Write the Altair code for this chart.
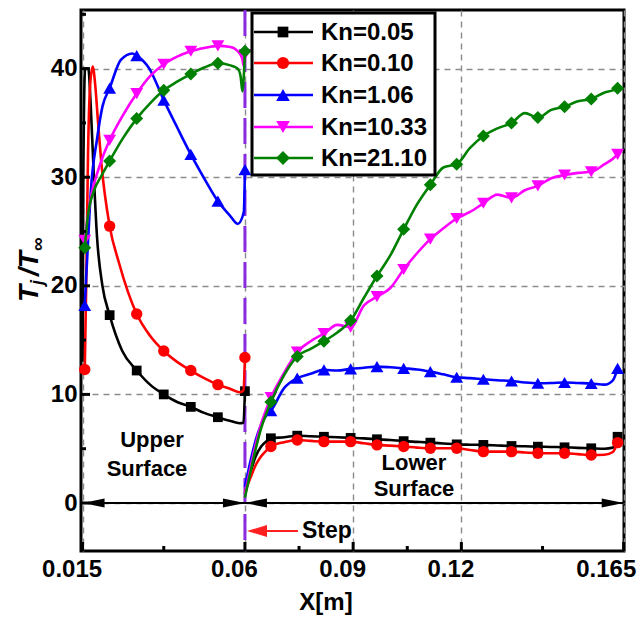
import altair as alt
import pandas as pd

# ---------------- data ----------------
SERIES = ["Kn=0.05", "Kn=0.10", "Kn=1.06", "Kn=10.33", "Kn=21.10"]
COLORS = ["#000000", "#FF0000", "#0000FF", "#FF00FF", "#008000"]
SHAPES = ["square", "circle", "triangle-up", "triangle-down", "diamond"]
SIZES = [95, 130, 165, 165, 170]

# upper surface (x in m, T/Tinf)
UP_X = {
    "Kn=0.05": [0.0150, 0.0152, 0.0157, 0.0166, 0.0172, 0.0180, 0.0190, 0.0205, 0.0225, 0.0260, 0.0300,
                0.0337, 0.0375, 0.0412, 0.0450, 0.0487, 0.0525, 0.0560, 0.0585, 0.0596, 0.0600],
    "Kn=0.10": [0.0156, 0.0160, 0.0165, 0.0171, 0.0178, 0.0185, 0.0193, 0.0202, 0.0225, 0.0251, 0.0300,
                0.0337, 0.0375, 0.0412, 0.0450, 0.0487, 0.0525, 0.0560, 0.0586, 0.0596, 0.0600],
    "Kn=1.06": [0.0156, 0.0165, 0.0173, 0.0190, 0.0205, 0.0225, 0.0256, 0.0288, 0.0300, 0.0335, 0.0375,
                0.0412, 0.0450, 0.0487, 0.0525, 0.0560, 0.0580, 0.0597, 0.0600],
    "Kn=10.33": [0.0156, 0.0165, 0.0175, 0.0190, 0.0205, 0.0225, 0.0260, 0.0300, 0.0337, 0.0375, 0.0412,
                 0.0450, 0.0487, 0.0525, 0.0560, 0.0580, 0.0592, 0.0597, 0.0600],
    "Kn=21.10": [0.0156, 0.0165, 0.0182, 0.0200, 0.0225, 0.0262, 0.0300, 0.0337, 0.0375, 0.0412, 0.0450,
                 0.0487, 0.0525, 0.0560, 0.0580, 0.0588, 0.0593, 0.0600],
}
UP_Y = {
    "Kn=0.05": [13.0, 30.0, 40.0, 40.0, 37.0, 31.0, 24.5, 20.0, 17.3, 14.0, 12.2,
                10.9, 10.0, 9.3, 8.85, 8.3, 7.9, 7.55, 7.35, 7.4, 10.3],
    "Kn=0.10": [12.3, 20.0, 32.0, 38.5, 40.2, 38.5, 35.0, 31.3, 25.5, 22.1, 17.4,
                15.4, 14.0, 13.0, 12.2, 11.5, 10.9, 10.5, 10.2, 10.4, 13.4],
    "Kn=1.06": [18.2, 24.0, 28.8, 33.5, 36.5, 38.2, 40.8, 41.4, 41.2, 40.0, 37.1,
                34.6, 32.1, 29.9, 27.8, 26.4, 25.7, 26.8, 30.7],
    "Kn=10.33": [24.2, 26.5, 28.5, 30.3, 31.8, 33.4, 35.6, 37.7, 39.3, 40.4, 41.1,
                 41.6, 41.9, 42.1, 42.0, 41.6, 41.0, 40.2, 41.3],
    "Kn=21.10": [23.5, 26.5, 28.8, 30.0, 31.5, 33.6, 35.4, 36.8, 38.0, 38.8, 39.5,
                 40.1, 40.5, 40.3, 40.0, 39.3, 37.9, 41.6],
}
UP_MARKS = {
    "Kn=0.05": [0.0225, 0.0300, 0.0375, 0.0450, 0.0525, 0.0600],
    "Kn=0.10": [0.0156, 0.0225, 0.0300, 0.0375, 0.0450, 0.0525, 0.0600],
    "Kn=1.06": [0.0156, 0.0225, 0.0300, 0.0375, 0.0450, 0.0525, 0.0600],
    "Kn=10.33": [0.0156, 0.0225, 0.0300, 0.0375, 0.0450, 0.0525, 0.0600],
    "Kn=21.10": [0.0156, 0.0225, 0.0300, 0.0375, 0.0450, 0.0525, 0.0600],
}

# lower surface
LOW_X = [0.0600, 0.0615, 0.0630, 0.0645, 0.0660, 0.0672, 0.0709, 0.0745, 0.0782, 0.0819, 0.0856,
         0.0893, 0.0930, 0.0966, 0.1003, 0.1040, 0.1077, 0.1114, 0.1150, 0.1187, 0.1224, 0.1261,
         0.1300, 0.1339, 0.1376, 0.1412, 0.1449, 0.1486, 0.1523, 0.1560, 0.1597, 0.1620, 0.1633]
LOW_Y = {
    "Kn=0.05": [0.8, 2.8, 4.3, 5.2, 5.7, 5.96, 6.05, 6.2, 6.15, 6.1, 6.05,
                6.0, 5.95, 5.87, 5.8, 5.7, 5.63, 5.56, 5.48, 5.4, 5.37, 5.35,
                5.3, 5.25, 5.22, 5.19, 5.16, 5.13, 5.08, 5.04, 5.0, 5.1, 6.1],
    "Kn=0.10": [1.0, 2.3, 3.5, 4.3, 4.85, 5.2, 5.6, 5.8, 5.72, 5.65, 5.65,
                5.65, 5.5, 5.35, 5.28, 5.2, 5.1, 5.04, 5.04, 5.04, 4.88, 4.73,
                4.73, 4.73, 4.65, 4.58, 4.58, 4.58, 4.5, 4.42, 4.45, 4.7, 5.56],
    "Kn=1.06": [1.5, 3.8, 5.8, 7.2, 8.1, 8.5, 10.6, 11.5, 11.9, 12.26, 12.2,
                12.35, 12.45, 12.56, 12.5, 12.4, 12.3, 12.1, 11.85, 11.58, 11.5, 11.4,
                11.3, 11.24, 11.1, 11.03, 11.05, 11.1, 11.05, 11.0, 10.9, 11.3, 12.4],
    "Kn=10.33": [0.8, 3.2, 5.4, 7.3, 8.7, 9.7, 12.0, 13.9, 14.9, 15.6, 16.4,
                 16.2, 18.2, 19.0, 19.8, 21.5, 23.0, 24.3, 25.3, 26.2, 26.8, 27.6,
                 28.4, 28.1, 28.8, 29.2, 29.9, 30.2, 30.4, 30.5, 31.2, 31.7, 32.1],
    "Kn=21.10": [0.5, 2.8, 5.0, 6.9, 8.3, 9.3, 11.8, 13.5, 14.2, 14.9, 15.7,
                 16.8, 18.9, 20.9, 22.8, 25.2, 27.5, 29.3, 30.9, 31.2, 32.7, 33.8,
                 34.5, 35.0, 35.9, 35.5, 36.2, 36.5, 37.0, 37.2, 37.8, 38.0, 38.2],
}
LOW_MARKS = [0.0672, 0.0745, 0.0819, 0.0893, 0.0966, 0.1040, 0.1114, 0.1187, 0.1261,
             0.1339, 0.1412, 0.1486, 0.1560, 0.1633]

X_TICKS = [0.015, 0.06, 0.09, 0.12, 0.165]
X_MINOR = [0.0375, 0.075, 0.105, 0.1425]
Y_TICKS = [0, 10, 20, 30, 40]
Y_MINOR = [5, 15, 25, 35, 45]
STEP_X = [0.06]
ARROW_LEFT_X = [0.015, 0.06]
ARROW_RIGHT_X = [0.06, 0.165]

# ---------------- layout ----------------
W, H = 543, 541
FONT = "Liberation Sans"
x_scale = alt.Scale(domain=[0.01456, 0.16508], nice=False, zero=False)
y_scale = alt.Scale(domain=[-4.42, 45.4], nice=False, zero=False)

x_axis = alt.Axis(values=X_TICKS, format=".3~f", grid=True, gridDash=[6, 5], gridColor="#8c8c8c",
                  gridWidth=1.4, ticks=False, tickSize=0, domain=False, labelFlush=False,
                  labelOverlap=False,
                  labelOffset={"condition": {"test": "datum.value > 0.16", "value": -18}, "value": -11},
                  labelPadding=6, title=None)
y_axis = alt.Axis(values=Y_TICKS, format="d", grid=True, gridDash=[6, 5], gridColor="#8c8c8c",
                  gridWidth=1.4, ticks=False, tickSize=0, domain=False, labelPadding=4, title=None)


def X(field):
    return alt.X(field, type="quantitative", scale=x_scale, axis=x_axis)


def Y(field):
    return alt.Y(field, type="quantitative", scale=y_scale, axis=y_axis)


one = pd.DataFrame({"a": [0]})
layers = []

# axes + grid anchor
layers.append(alt.Chart(pd.DataFrame({"x": [0.06], "y": [0.0]})).mark_point(opacity=0).encode(
    x=X("x"), y=Y("y")))

# step line
layers.append(alt.Chart(pd.DataFrame({"x": STEP_X})).mark_rule(
    color="#8A2BE2", strokeWidth=3, strokeDash=[26, 10]).encode(
    x=X("x"), y=alt.value(0), y2=alt.value(H)))

# zero line with arrows
layers.append(alt.Chart(pd.DataFrame({"x": [X_TICKS[0]], "x2": [X_TICKS[-1]], "y": [0.0]})).mark_rule(
    color="black", strokeWidth=2).encode(x=X("x"), x2="x2", y=Y("y")))
layers.append(alt.Chart(pd.DataFrame({"x": ARROW_LEFT_X, "y": [0.0] * 2})).mark_point(
    shape="M 0 0 L 2 -0.42 L 2 0.42 Z", filled=True, size=484, color="black", opacity=1).encode(
    x=X("x"), y=Y("y")))
layers.append(alt.Chart(pd.DataFrame({"x": ARROW_RIGHT_X, "y": [0.0] * 2})).mark_point(
    shape="M 0 0 L -2 -0.42 L -2 0.42 Z", filled=True, size=484, color="black", opacity=1).encode(
    x=X("x"), y=Y("y")))

# series
for i, name in enumerate(SERIES):
    rows = []
    for xv, yv in zip(UP_X[name], UP_Y[name]):
        rows.append({"x": xv, "y": yv, "seg": "upper", "mark": any(abs(xv - m) < 1e-6 for m in UP_MARKS[name])})
    for xv, yv in zip(LOW_X, LOW_Y[name]):
        rows.append({"x": xv, "y": yv, "seg": "lower", "mark": any(abs(xv - m) < 1e-6 for m in LOW_MARKS)})
    df = pd.DataFrame(rows)
    layers.append(alt.Chart(df).mark_line(color=COLORS[i], strokeWidth=2.6, interpolate="monotone").encode(
        x=X("x"), y=Y("y"), detail="seg:N"))
    layers.append(alt.Chart(df[df["mark"]]).mark_point(
        shape=SHAPES[i], filled=True, size=SIZES[i], color=COLORS[i], opacity=1).encode(
        x=X("x"), y=Y("y")))

# inward ticks
layers.append(alt.Chart(pd.DataFrame({"v": X_TICKS})).mark_rule(color="black", strokeWidth=3).encode(
    x=X("v"), y=alt.value(H), y2=alt.value(H - 9)))
layers.append(alt.Chart(pd.DataFrame({"v": X_MINOR})).mark_rule(color="black", strokeWidth=3).encode(
    x=X("v"), y=alt.value(H), y2=alt.value(H - 5)))
layers.append(alt.Chart(pd.DataFrame({"v": Y_TICKS})).mark_rule(color="black", strokeWidth=3).encode(
    y=Y("v"), x=alt.value(0), x2=alt.value(9)))
layers.append(alt.Chart(pd.DataFrame({"v": Y_MINOR})).mark_rule(color="black", strokeWidth=3).encode(
    y=Y("v"), x=alt.value(0), x2=alt.value(5)))

# legend
LEG_Y = [22, 53, 85, 117, 148]
layers.append(alt.Chart(one).mark_rect(fill="white", stroke="black", strokeWidth=3).encode(
    x=alt.value(171), x2=alt.value(354), y=alt.value(3), y2=alt.value(165)))
for i, name in enumerate(SERIES):
    leg = pd.DataFrame({"series": [name]})
    layers.append(alt.Chart(leg).mark_rule(color=COLORS[i], strokeWidth=2.6).encode(
        x=alt.value(173), x2=alt.value(232), y=alt.value(LEG_Y[i])))
    layers.append(alt.Chart(leg).mark_point(shape=SHAPES[i], filled=True, size=SIZES[i] + 20,
                                            color=COLORS[i], opacity=1).encode(
        x=alt.value(202), y=alt.value(LEG_Y[i])))
    layers.append(alt.Chart(leg).mark_text(align="left", baseline="middle", fontSize=24,
                                           fontWeight="bold", font=FONT, color="black").encode(
        x=alt.value(240), y=alt.value(LEG_Y[i] + 1), text="series:N"))

# annotations
ANNOT = [("Upper", 71, 430), ("Surface", 66, 459), ("Lower", 333, 453), ("Surface", 333, 479)]
for t, ax, ay in ANNOT:
    layers.append(alt.Chart(one).mark_text(text=t, align="center", baseline="middle", fontSize=22,
                                           fontWeight="bold", font=FONT, color="black").encode(
        x=alt.value(ax), y=alt.value(ay)))

# step arrow
layers.append(alt.Chart(one).mark_rule(color="#FF2020", strokeWidth=2).encode(
    x=alt.value(180), x2=alt.value(217), y=alt.value(521), y2=alt.value(521)))
layers.append(alt.Chart(one).mark_point(shape="M 0 0 L 2 -0.6 L 2 0.6 Z", filled=True, size=400,
                                        color="#FF2020", opacity=1).encode(
    x=alt.value(166), y=alt.value(521)))
layers.append(alt.Chart(one).mark_text(text="Step", align="left", baseline="middle", fontSize=23,
                                       fontWeight="bold", font=FONT, color="black").encode(
    x=alt.value(221), y=alt.value(521)))

# axis titles
layers.append(alt.Chart(one).mark_text(text="X[m]", align="center", baseline="middle", fontSize=24,
                                       fontWeight="bold", font=FONT, color="black").encode(
    x=alt.value(245), y=alt.value(593)))
TITLE_PARTS = [("T", 28, -51, 292), ("j", 18, -43, 275), ("/T", 28, -51, 266), ("\u221e", 19, -43, 241)]
for t, fs, tx, ty in TITLE_PARTS:
    layers.append(alt.Chart(one).mark_text(text=t, align="left", baseline="middle", angle=270,
                                           fontSize=fs, fontWeight="bold", fontStyle="italic",
                                           font=FONT, color="black").encode(
        x=alt.value(tx), y=alt.value(ty)))

chart = alt.layer(*layers).properties(
    width=W, height=H,
    padding={"left": 81, "top": 10, "right": 17, "bottom": 68},
    autosize=alt.AutoSizeParams(type="none"),
    background="white",
).configure_view(stroke="black", strokeWidth=3).configure_axis(
    labelFont=FONT, labelFontWeight="bold", labelFontSize=24, labelColor="black")

chart.save("out.html", embed_options={"renderer": "svg", "actions": False})
